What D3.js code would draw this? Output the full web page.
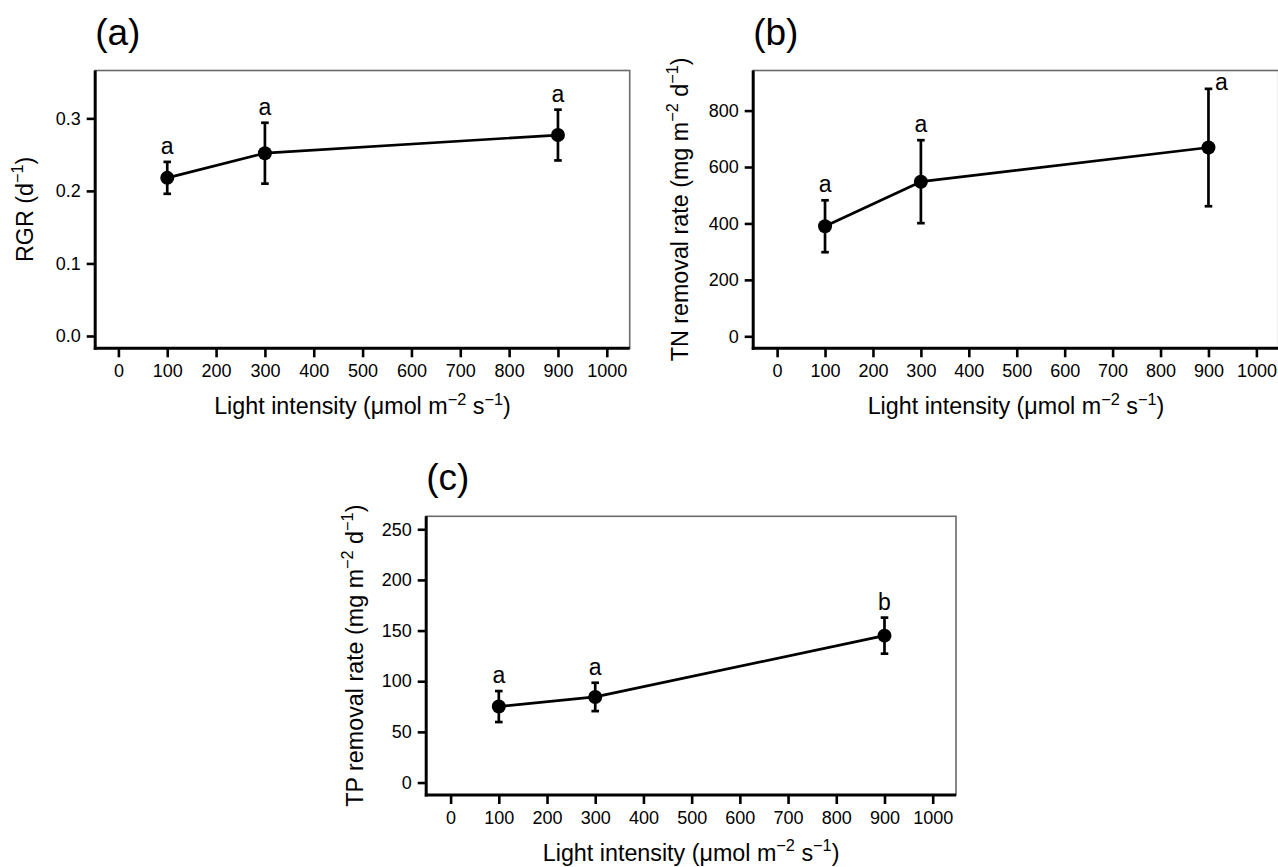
<!DOCTYPE html>
<html>
<head>
<meta charset="utf-8">
<script src="https://cdn.jsdelivr.net/npm/d3@7"></script>
<style>
  html, body { margin: 0; padding: 0; background: #fff; }
  svg { display: block; }
  text { font-family: "Liberation Sans", Arial, Helvetica, sans-serif; fill: #000; }
</style>
</head>
<body>
<script>
// ---------------- data ----------------
const lightLevels = [100, 300, 900];
const xTicks = [0, 100, 200, 300, 400, 500, 600, 700, 800, 900, 1000];

const rgrMean = [0.218, 0.252, 0.277];
const rgrSE = [0.022, 0.042, 0.035];
const rgrLetters = ["a", "a", "a"];
const rgrTicks = [0.0, 0.1, 0.2, 0.3];

const tnMean = [390, 548, 669];
const tnSE = [92, 147, 208];
const tnLetters = ["a", "a", "a"];
const tnTicks = [0, 200, 400, 600, 800];

const tpMean = [75, 84.5, 145];
const tpSE = [15.3, 14, 17.8];
const tpLetters = ["a", "a", "b"];
const tpTicks = [0, 50, 100, 150, 200, 250];

// ---------------- layout ----------------
const W = 1278, H = 867;
const svg = d3.select("body").append("svg").attr("width", W).attr("height", H);
svg.append("rect").attr("width", W).attr("height", H).attr("fill", "#fff");

const xTitleParts = [{ t: "Light intensity (\u03bcmol m" }, { t: "\u22122", sup: true }, { t: " s" }, { t: "\u22121", sup: true }, { t: ")" }];

const panels = [
  {
    label: "(a)", box: { l: 95.2, t: 70.5, r: 629.7, b: 348.3 }, xr: [118.4, 606.8], yd: [-0.017, 0.366],
    means: rgrMean, se: rgrSE, letters: rgrLetters, yticks: rgrTicks, yfmt: d3.format(".1f"), yOff: 62,
    ytitle: [{ t: "RGR (d" }, { t: "\u22121", sup: true }, { t: ")" }]
  },
  {
    label: "(b)", box: { l: 753.2, t: 70.5, r: 1278.7, b: 348.3 }, xr: [777.1, 1256.4], yd: [-42.5, 942],
    means: tnMean, se: tnSE, letters: tnLetters, yticks: tnTicks, yfmt: d3.format("d"), yOff: 65,
    ytitle: [{ t: "TN removal rate (mg m" }, { t: "\u22122", sup: true }, { t: " d" }, { t: "\u22121", sup: true }, { t: ")" }]
  },
  {
    label: "(c)", box: { l: 426.2, t: 516.3, r: 956, b: 795 }, xr: [450.6, 932.7], yd: [-12.3, 262.8],
    means: tpMean, se: tpSE, letters: tpLetters, yticks: tpTicks, yfmt: d3.format("d"), yOff: 63,
    ytitle: [{ t: "TP removal rate (mg m" }, { t: "\u22122", sup: true }, { t: " d" }, { t: "\u22121", sup: true }, { t: ")" }]
  }
];

const tickFont = 18, titleFont = 23.3, letterFont = 23, panelFont = 37;

function richText(sel, parts, fs) {
  const supFs = fs * 0.7, shift = fs * 0.42;
  let raised = false;
  parts.forEach(p => {
    const ts = sel.append("tspan").text(p.t);
    if (p.sup) {
      ts.attr("font-size", supFs).attr("dy", raised ? 0 : -shift);
      raised = true;
    } else {
      ts.attr("font-size", fs).attr("dy", raised ? shift : 0);
      raised = false;
    }
  });
}

panels.forEach(p => {
  const g = svg.append("g");
  const b = p.box;
  const x = d3.scaleLinear().domain([0, 1000]).range(p.xr);
  const y = d3.scaleLinear().domain(p.yd).range([b.b, b.t]);

  // thin gray box
  g.append("rect").attr("x", b.l).attr("y", b.t).attr("width", b.r - b.l).attr("height", b.b - b.t)
    .attr("fill", "none").attr("stroke", "#6a6a6a").attr("stroke-width", 1.6);

  // y axis
  const ya = d3.axisLeft(y).tickValues(p.yticks).tickFormat(p.yfmt).tickSize(8.5).tickSizeOuter(0).tickPadding(6);
  const yg = g.append("g").attr("transform", `translate(${b.l},0)`).call(ya);
  yg.select(".domain").remove();
  yg.selectAll(".tick line").attr("stroke", "#000").attr("stroke-width", 2.6);
  yg.selectAll(".tick text").attr("font-size", tickFont).attr("font-family", null).attr("fill", "#111");

  // x axis
  const xa = d3.axisBottom(x).tickValues(xTicks).tickFormat(d3.format("d")).tickSize(9).tickSizeOuter(0).tickPadding(7);
  const xg = g.append("g").attr("transform", `translate(0,${b.b})`).call(xa);
  xg.select(".domain").remove();
  xg.selectAll(".tick line").attr("stroke", "#000").attr("stroke-width", 2.6);
  xg.selectAll(".tick text").attr("font-size", tickFont).attr("font-family", null).attr("fill", "#111");

  // thick L axes
  g.append("line").attr("x1", b.l).attr("x2", b.l).attr("y1", b.t).attr("y2", b.b + 1.4)
    .attr("stroke", "#000").attr("stroke-width", 3);
  g.append("line").attr("x1", b.l - 1.4).attr("x2", b.r).attr("y1", b.b).attr("y2", b.b)
    .attr("stroke", "#000").attr("stroke-width", 3);

  // axis titles
  const xt = g.append("text").attr("x", (b.l + b.r) / 2).attr("y", b.b + 66).attr("text-anchor", "middle");
  richText(xt, xTitleParts, titleFont);
  const yt = g.append("text").attr("text-anchor", "middle")
    .attr("transform", `translate(${b.l - p.yOff},${(b.t + b.b) / 2}) rotate(-90)`);
  richText(yt, p.ytitle, titleFont);

  // panel label
  g.append("text").attr("x", b.l).attr("y", b.t - 26).attr("font-size", panelFont).text(p.label);

  const pts = lightLevels.map((lv, i) => ({ lv, m: p.means[i], s: p.se[i], lab: p.letters[i] }));

  // connecting line
  g.append("path").datum(pts)
    .attr("d", d3.line().x(d => x(d.lv)).y(d => y(d.m)))
    .attr("fill", "none").attr("stroke", "#000").attr("stroke-width", 2.7).attr("stroke-linejoin", "round");

  // error bars
  const eb = g.selectAll(".eb").data(pts).enter().append("g");
  eb.append("line").attr("x1", d => x(d.lv)).attr("x2", d => x(d.lv))
    .attr("y1", d => y(d.m - d.s)).attr("y2", d => y(d.m + d.s)).attr("stroke", "#000").attr("stroke-width", 2.7);
  [1, -1].forEach(sg => {
    eb.append("line").attr("x1", d => x(d.lv) - 3.8).attr("x2", d => x(d.lv) + 3.8)
      .attr("y1", d => y(d.m + sg * d.s)).attr("y2", d => y(d.m + sg * d.s))
      .attr("stroke", "#000").attr("stroke-width", 2.7);
  });

  // points
  g.selectAll(".pt").data(pts).enter().append("circle")
    .attr("cx", d => x(d.lv)).attr("cy", d => y(d.m)).attr("r", 7).attr("fill", "#000");

  // significance letters
  g.selectAll(".lab").data(pts).enter().append("text")
    .attr("font-size", letterFont).attr("text-anchor", "middle")
    .each(function (d) {
      const top = y(d.m + d.s);
      let tx = x(d.lv), ty = top - 8;
      if (ty - letterFont * 0.55 < b.t) { tx = x(d.lv) + 13; ty = top + 1; }
      d3.select(this).attr("x", tx).attr("y", ty);
    })
    .text(d => d.lab);
});
</script>
</body>
</html>
